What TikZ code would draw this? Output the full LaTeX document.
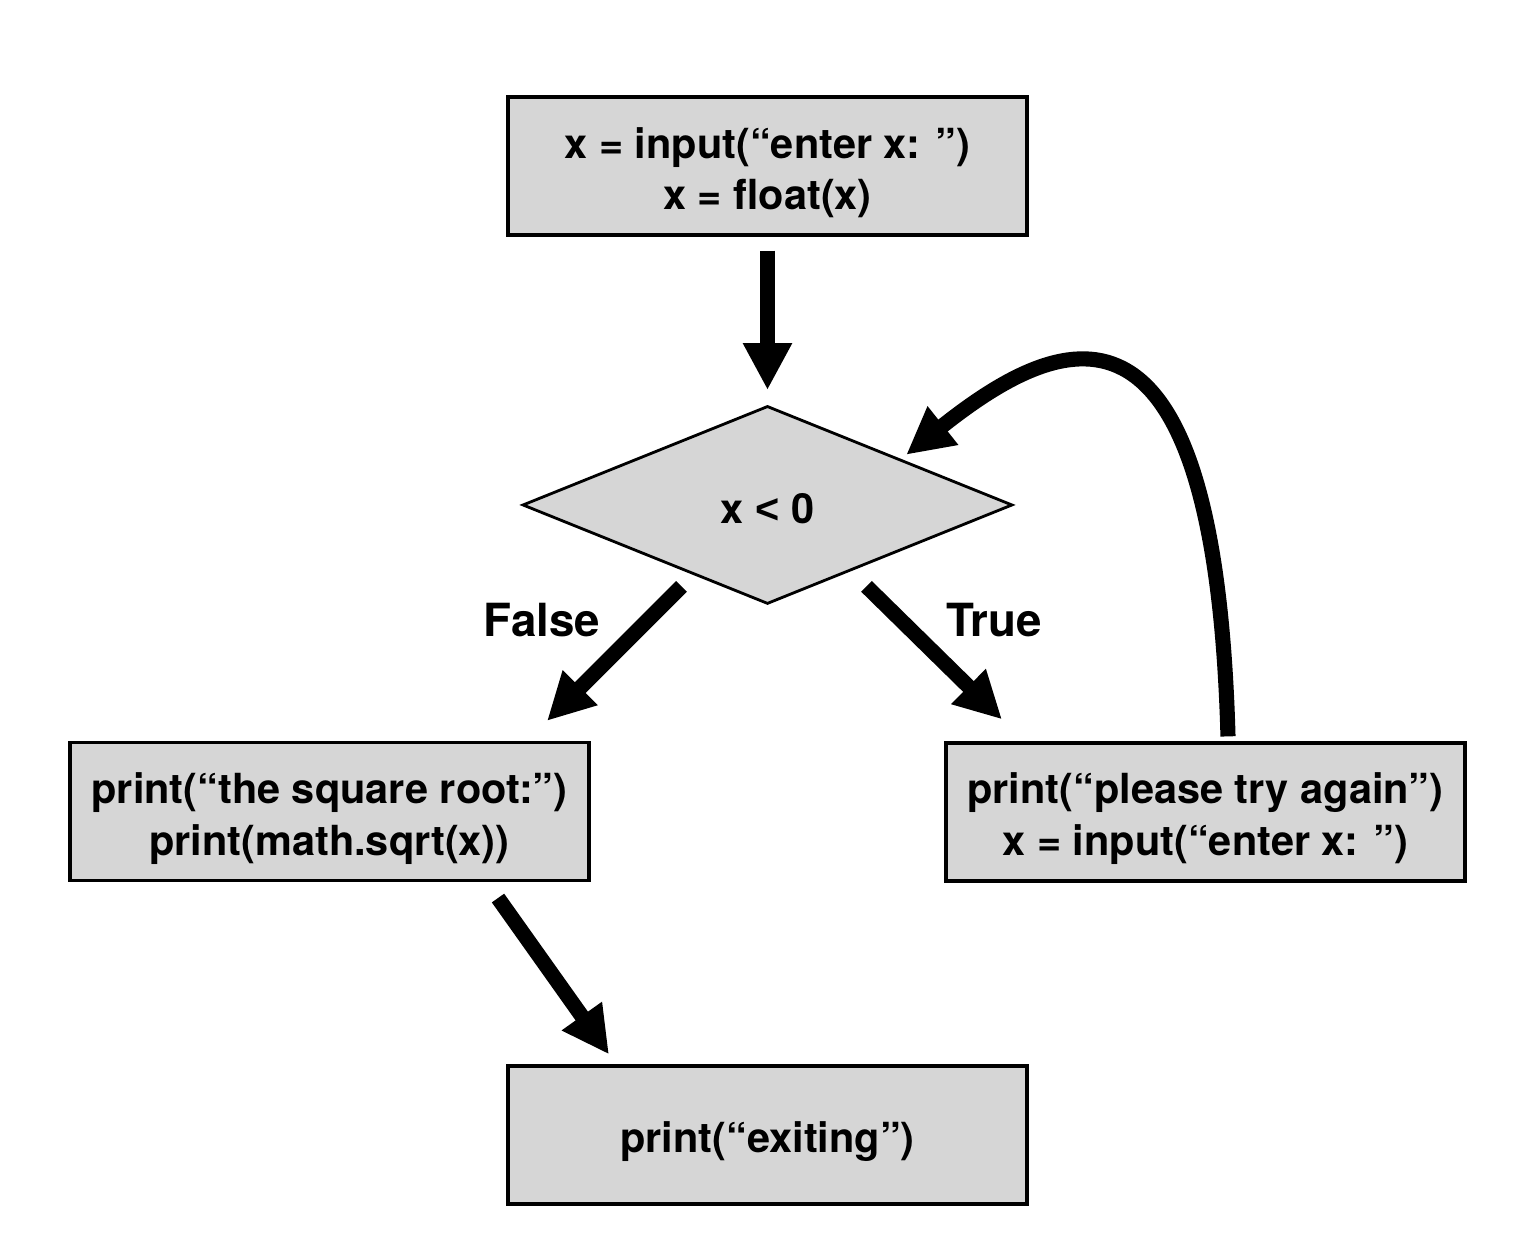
\documentclass[tikz,border=0pt]{standalone}
\usepackage{fontspec}
\setmainfont{TeX Gyre Heros}
\newfontfamily\signfont{Liberation Sans}
\usetikzlibrary{shapes.geometric,arrows.meta}
\definecolor{boxgray}{RGB}{214,214,214}
\begin{document}
\begin{tikzpicture}[node font = \fontsize{11.8}{14.7}\selectfont\bfseries,
    block/.style = {draw,line width=0.9pt,fill=boxgray,minimum width=5.19cm,minimum height=1.38cm,align=center,inner sep=0pt,text height=12.4pt},
    twoline/.style = {block,text height=27.4pt},
    test/.style = {draw,diamond,line width=0.8pt,fill=boxgray,minimum width=4.9cm,minimum height=1.98cm,inner sep=0pt,text height=10.8pt},
    flow/.style = {line width=4.3pt,-{Triangle[length=0.47cm,width=0.46cm]}},
    tag/.style = {node font = \fontsize{13}{15}\selectfont\bfseries}]
            \useasboundingbox (0,0) rectangle (15.4,12.54);
            \node [twoline] (start) at (7.675,10.88) {x = input(“enter x: ”)\\x = float(x)};
            \node [test] (test) at (7.675,7.49) {x {\signfont <} 0};
            \node [twoline] (lft) at (3.295,4.425) {print(“the square root:”)\\print(math.sqrt(x))};
            \node [twoline] (rgt) at (12.055,4.42) {print(“please try again”)\\x = input(“enter x: ”)};
            \node [block] (stop) at (7.675,1.19) {print(“exiting”)};
            \node [tag] (no) at (5.42,6.34) {False};
            \node [tag] (yes) at (9.94,6.34) {True};
            \draw [flow,shorten <=0.14cm,shorten >=0.145cm] (start.south) -- (test.north);
            \draw [flow] ([shift={(-0.86,0.19)}]test.south) -- ([shift={(2.175,0.20)}]lft.north);
            \draw [flow] ([shift={(0.99,0.19)}]test.south) -- ([shift={(-2.035,0.22)}]rgt.north);
            \draw [flow] ([shift={(1.685,-0.16)}]lft.south) -- ([shift={(-1.585,0.10)}]stop.north);
            \draw [flow] ([shift={(0.225,0.05)}]rgt.north) .. controls (12.15,9.94) and (10.57,9.19) .. ([xshift=0.155cm]test.north east);
        \end{tikzpicture}
\end{document}
